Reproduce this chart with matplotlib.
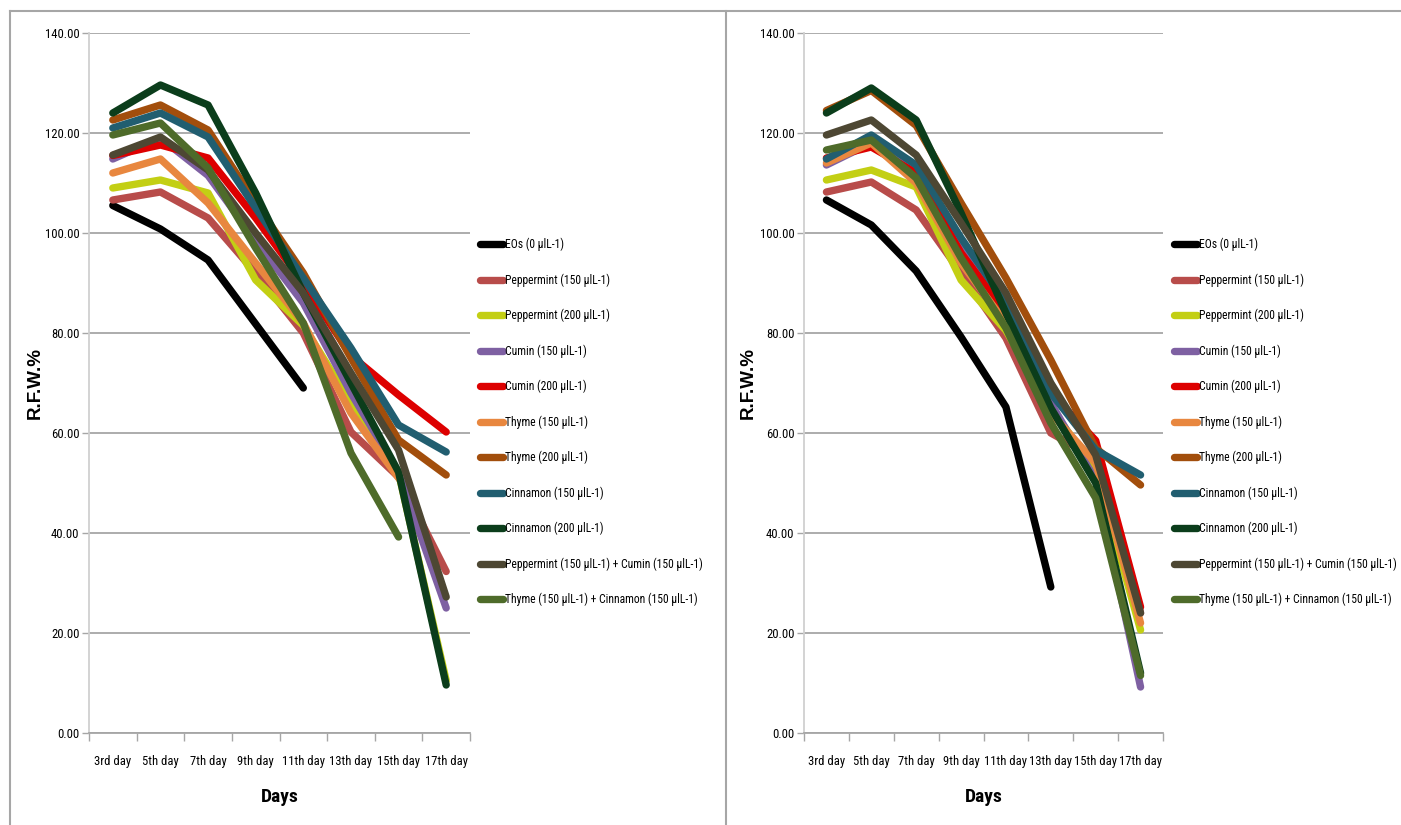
"""
R.F.W.% over storage days for the essential oil treatments, two panels
"""

import numpy as np
import matplotlib
matplotlib.use("Agg")
import matplotlib.pyplot as plt
from matplotlib import font_manager

nan = np.nan

days = ["3rd day", "5th day", "7th day", "9th day", "11th day", "13th day", "15th day", "17th day"]

labels = ["EOs (0 µlL-1)", "Peppermint (150 µlL-1)", "Peppermint (200 µlL-1)",
          "Cumin (150 µlL-1)", "Cumin (200 µlL-1)", "Thyme (150 µlL-1)",
          "Thyme (200 µlL-1)", "Cinnamon (150 µlL-1)", "Cinnamon (200 µlL-1)",
          "Peppermint (150 µlL-1) + Cumin (150 µlL-1)",
          "Thyme (150 µlL-1) + Cinnamon (150 µlL-1)"]

colors = ["#000000", "#B84C4A", "#C3CF14", "#7E60A2", "#DD0000", "#E8873F",
          "#A24E0C", "#215E70", "#0B3D1B", "#4D4733", "#4E6B2A"]

# left panel
eos_l = [105.5, 100.8, 94.6, 81.8, 69.0, nan, nan, nan]
pep150_l = [106.6, 108.2, 103.0, 92.0, 80.0, 60.2, 51.2, 32.3]
pep200_l = [109.0, 110.6, 108.0, 90.6, 81.5, 66.0, 52.0, 10.5]
cum150_l = [114.8, 119.0, 111.5, 98.5, 86.0, 68.0, 52.0, 25.0]
cum200_l = [115.5, 117.6, 115.0, 103.0, 90.0, 75.5, 67.6, 60.2]
thy150_l = [112.0, 114.8, 106.0, 94.0, 82.0, 64.0, 51.0, nan]
thy200_l = [122.6, 125.6, 120.6, 106.0, 92.0, 75.0, 58.6, 51.6]
cin150_l = [121.0, 124.0, 119.2, 105.0, 91.0, 77.0, 61.6, 56.2]
cin200_l = [124.0, 129.6, 125.6, 108.0, 88.0, 70.0, 52.2, 9.6]
pc_l = [115.6, 119.2, 112.6, 100.0, 88.0, 72.0, 56.6, 27.2]
tc_l = [119.6, 122.0, 113.0, 97.0, 82.0, 56.0, 39.2, nan]

# right panel
eos_r = [106.6, 101.6, 92.4, 79.2, 65.2, 29.2, nan, nan]
pep150_r = [108.2, 110.2, 104.6, 92.0, 79.0, 60.0, 55.0, 24.0]
pep200_r = [110.6, 112.6, 109.2, 90.6, 80.5, 65.0, 52.6, 20.6]
cum150_r = [113.6, 118.0, 113.0, 97.0, 84.0, 66.0, 50.6, 9.2]
cum200_r = [115.0, 117.2, 112.0, 96.0, 84.0, 68.0, 58.5, 25.2]
thy150_r = [114.0, 118.0, 110.0, 94.0, 82.0, 64.0, 54.0, 22.0]
thy200_r = [124.5, 128.5, 121.5, 106.0, 91.0, 74.6, 57.0, 49.6]
cin150_r = [114.8, 119.6, 113.6, 99.0, 86.0, 68.0, 56.6, 51.6]
cin200_r = [124.0, 129.0, 122.6, 104.0, 84.0, 65.0, 50.0, 12.0]
pc_r = [119.6, 122.6, 115.6, 102.0, 88.0, 70.0, 55.6, 24.0]
tc_r = [116.6, 118.6, 111.0, 95.0, 81.0, 62.0, 47.0, 11.5]

left_series = [eos_l, pep150_l, pep200_l, cum150_l, cum200_l, thy150_l,
               thy200_l, cin150_l, cin200_l, pc_l, tc_l]
right_series = [eos_r, pep150_r, pep200_r, cum150_r, cum200_r, thy150_r,
                thy200_r, cin150_r, cin200_r, pc_r, tc_r]

# look for a condensed face (the original uses Calibri-like narrow text)
fonts = font_manager.fontManager.ttflist
narrow_names = ['Liberation Sans Narrow', 'Roboto Condensed', 'Open Sans Condensed',
                'DejaVu Sans Condensed', 'Noto Sans Condensed']
scale = 1.0
found = [n for n in narrow_names if any(f.name == n for f in fonts)]
if found:
    plt.rcParams['font.family'] = [found[0], 'DejaVu Sans']
elif any(f.name == 'DejaVu Sans' and 'condensed' in str(f.stretch) for f in fonts):
    plt.rcParams['font.family'] = ['DejaVu Sans']
    plt.rcParams['font.stretch'] = 'condensed'
    scale = 0.9
else:
    plt.rcParams['font.family'] = ['Liberation Sans', 'DejaVu Sans']
    scale = 0.8

tick_fs = 9.1 * scale
leg_fs = 8.4 * scale


def draw_panel(fig, rect, series, legend_x, ylab_x):
    ax = fig.add_axes(rect)
    x = np.arange(len(days))
    for vals, lab, col in zip(series, labels, colors):
        ax.plot(x, vals, color=col, lw=5.3, label=lab,
                solid_capstyle='round', solid_joinstyle='round')

    ax.set_xlim(-0.5, len(days) - 0.5)
    ax.set_ylim(0, 140)
    ax.set_yticks(np.arange(0, 141, 20))
    ax.set_yticklabels(["%.2f" % v for v in np.arange(0, 141, 20)], fontsize=tick_fs)
    ax.set_xticks(x)
    ax.set_xticklabels(days, fontsize=tick_fs)
    ax.set_xticks(np.arange(-0.5, len(days), 1), minor=True)
    ax.tick_params(axis='x', which='major', length=0, pad=16)
    ax.tick_params(axis='x', which='minor', length=6, color='#A6A6A6', width=1)
    ax.tick_params(axis='y', length=5, color='#A6A6A6', width=1, pad=2)

    ax.grid(axis='y', color='#A6A6A6', lw=1.3)
    ax.set_axisbelow(True)
    for s in ['top', 'right']:
        ax.spines[s].set_visible(False)
    ax.spines['left'].set_color('#D0D0D0')
    ax.spines['bottom'].set_color('#A6A6A6')
    ax.spines['left'].set_linewidth(1.3)
    ax.spines['bottom'].set_linewidth(1.3)

    ax.set_xlabel("Days", fontsize=13 * scale + 1, fontweight='bold')
    ax.xaxis.set_label_coords(0.5, -55 / 700)
    ax.set_ylabel("R.F.W.%", fontsize=13.5, fontweight='bold',
                  family='Liberation Sans', fontstretch='normal')
    ax.yaxis.set_label_coords(ylab_x, 0.5)

    fs_px = leg_fs * 100 / 72
    ax.legend(loc='upper left', bbox_to_anchor=(legend_x, 1 - 238 / 825),
              bbox_transform=fig.transFigure, frameon=False, fontsize=leg_fs,
              handlelength=23 / fs_px, handletextpad=0.15,
              labelspacing=(35.5 - 0.98 * fs_px - 2.0) / fs_px,
              borderpad=0, borderaxespad=0)
    return ax


if __name__ == '__main__':
    fig = plt.figure(figsize=(14.01, 8.25), dpi=100)

    draw_panel(fig, [89 / 1401, 1 - 733 / 825, 381 / 1401, 700 / 825], left_series,
               480 / 1401, -45 / 381)
    draw_panel(fig, [804 / 1401, 1 - 733 / 825, 359 / 1401, 700 / 825], right_series,
               1174 / 1401, -47 / 359)

    # chart area frames
    fig.add_artist(plt.Line2D([10 / 1401, 1], [1 - 11 / 825] * 2, color='#A6A6A6', lw=1.5))
    fig.add_artist(plt.Line2D([10 / 1401] * 2, [0, 1 - 11 / 825], color='#A6A6A6', lw=1.5))
    fig.add_artist(plt.Line2D([726 / 1401] * 2, [0, 1 - 11 / 825], color='#A6A6A6', lw=1.5))

    fig.savefig("out.png", dpi=100)
